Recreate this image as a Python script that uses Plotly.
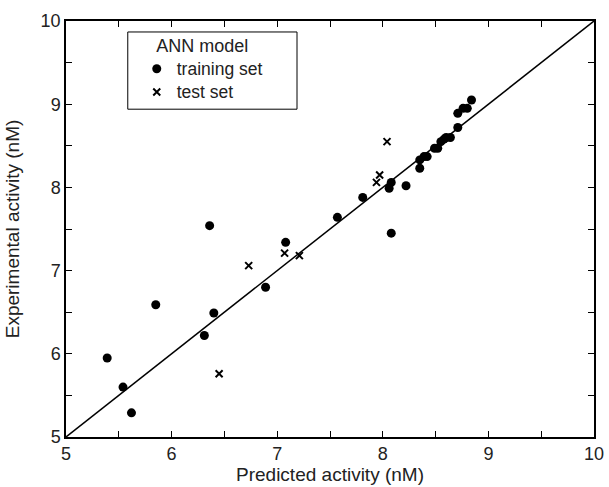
import plotly.graph_objects as go

# ANN model: predicted vs experimental activity
train_pred = [5.39, 5.54, 5.62, 5.85, 6.36, 6.40, 6.31, 6.89, 7.08, 7.57,
              7.81, 8.06, 8.08, 8.22, 8.08, 8.35, 8.35, 8.39, 8.42, 8.49,
              8.52, 8.55, 8.58, 8.60, 8.64, 8.71, 8.71, 8.76, 8.80, 8.84]
train_exp = [5.95, 5.60, 5.29, 6.59, 7.54, 6.49, 6.22, 6.80, 7.34, 7.64,
             7.88, 7.99, 8.06, 8.02, 7.45, 8.23, 8.33, 8.37, 8.37, 8.47,
             8.47, 8.55, 8.58, 8.60, 8.60, 8.72, 8.89, 8.95, 8.95, 9.05]

test_pred = [6.45, 6.73, 7.07, 7.21, 7.94, 7.97, 8.04]
test_exp = [5.76, 7.06, 7.21, 7.18, 8.06, 8.15, 8.55]

diag = [5, 10]
ticks = [5, 6, 7, 8, 9, 10]

fnt = "Liberation Sans, Arial, sans-serif"
txt = "#222"

def big(s, px=17.5):
    # render legend text larger than the font used for line spacing
    return f'<span style="font-size:{px}px">{s}</span>'

fig = go.Figure()

# y = x reference line
fig.add_trace(go.Scatter(x=diag, y=diag, mode="lines",
                         line=dict(color="black", width=1.5),
                         showlegend=False, hoverinfo="skip"))

fig.add_trace(go.Scatter(x=train_pred, y=train_exp, mode="markers",
                         name=big("training set"),
                         marker=dict(symbol="circle", size=9, color="black")))

fig.add_trace(go.Scatter(x=test_pred, y=test_exp, mode="markers",
                         name=big("test set"),
                         marker=dict(symbol="x-thin-open", size=7, color="black",
                                     line=dict(width=2, color="black"))))

axis_common = dict(
    showgrid=False, zeroline=False, automargin=False,
    showline=True, linecolor="black", linewidth=1.5, mirror="allticks",
    ticks="inside", ticklen=6, tickwidth=1, tickcolor="black",
    tickvals=ticks, ticktext=[str(t) for t in ticks],
    minor=dict(dtick=0.5, ticks="inside", ticklen=6, tickcolor="black", tickwidth=1),
    tickfont=dict(size=18, color=txt, family=fnt),
)

fig.update_xaxes(range=[5, 10], title=dict(text="Predicted activity (nM)",
                 font=dict(size=19, color=txt, family=fnt), standoff=2),
                 **axis_common)
fig.update_yaxes(range=[5, 10], title=dict(text="Experimental activity (nM)",
                 font=dict(size=19, color=txt, family=fnt), standoff=16),
                 **axis_common)

# legend frame
fig.add_shape(type="rect", xref="paper", yref="paper",
              x0=0.117, x1=0.4375, y0=0.788, y1=0.9736,
              line=dict(color="black", width=1), fillcolor="white", layer="below")

fig.update_layout(
    width=609, height=487,
    margin=dict(l=66, r=15, t=21, b=50),
    plot_bgcolor="rgba(0,0,0,0)", paper_bgcolor="white",
    font=dict(family=fnt, color=txt),
    legend=dict(
        x=0.134, y=0.975, xanchor="left", yanchor="top",
        borderwidth=0, bgcolor="rgba(0,0,0,0)",
        title=dict(text=big("ANN model", 18), font=dict(size=16, color=txt, family=fnt),
                   side="top center"),
        font=dict(size=15.5, color=txt, family=fnt),
        itemwidth=30, tracegroupgap=0,
    ),
)

fig.write_html("out.html", config={"displayModeBar": False},
               post_script="document.body.style.margin='0';")
